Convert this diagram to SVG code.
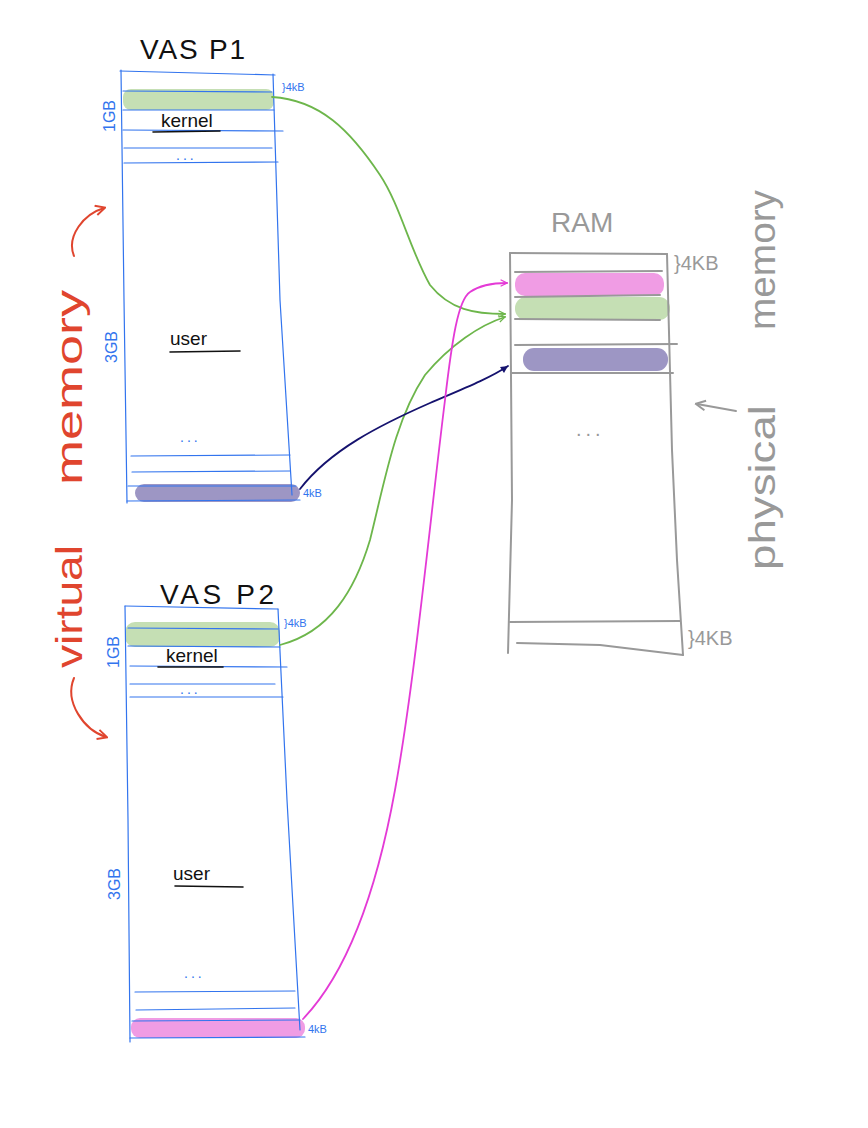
<svg xmlns="http://www.w3.org/2000/svg" width="868" height="1128" viewBox="0 0 868 1128">
<style>
.b{fill:none;stroke:#3274ee;stroke-width:1.2;stroke-linecap:round;stroke-linejoin:round}
.g{fill:none;stroke:#999;stroke-width:2;stroke-linecap:round;stroke-linejoin:round}
.ul{fill:none;stroke:#111;stroke-width:1.6;stroke-linecap:round}
.title{font-family:"Liberation Sans",Arial,sans-serif;font-size:28px;fill:#111}
.lbl{font-family:"Liberation Sans",Arial,sans-serif;font-size:19px;fill:#111}
.bl{font-family:"Liberation Sans",Arial,sans-serif;font-size:16px;fill:#3274ee}
.bs{font-family:"Liberation Sans",Arial,sans-serif;font-size:11px;fill:#3274ee}
.gr{font-family:"Liberation Sans",Arial,sans-serif;fill:#999}
.red{font-family:"Liberation Sans",Arial,sans-serif;font-size:36px;fill:#e0452e}
.dots{font-family:"Liberation Sans",Arial,sans-serif;font-size:14px;fill:#3274ee;letter-spacing:3px}
.green{fill:#c5dfb4}
.pink{fill:#f09ce4}
.purple{fill:#9d96c4}
.conn{fill:none;stroke-width:1.8;stroke-linecap:round}
</style>
<defs>
<marker id="mGreen" viewBox="0 0 10 10" refX="9" refY="5" markerWidth="8" markerHeight="8" orient="auto" markerUnits="userSpaceOnUse"><path d="M1,1 L9,5 L1,9" fill="none" stroke="#6db64b" stroke-width="1.5"/></marker>
<marker id="mNavy" viewBox="0 0 10 10" refX="9" refY="5" markerWidth="9" markerHeight="9" orient="auto" markerUnits="userSpaceOnUse"><path d="M1,1 L9,5 L1,9 Z" fill="#15126e"/></marker>
<marker id="mPink" viewBox="0 0 10 10" refX="9" refY="5" markerWidth="8" markerHeight="8" orient="auto" markerUnits="userSpaceOnUse"><path d="M1,1 L9,5 L1,9" fill="none" stroke="#e43ad6" stroke-width="1.5"/></marker>
<marker id="mRed" viewBox="0 0 10 10" refX="8" refY="5" markerWidth="12" markerHeight="12" orient="auto" markerUnits="userSpaceOnUse"><path d="M1,1 L9,5 L1,9" fill="none" stroke="#e0452e" stroke-width="1.6"/></marker>
<marker id="mGray" viewBox="0 0 10 10" refX="8" refY="5" markerWidth="12" markerHeight="12" orient="auto" markerUnits="userSpaceOnUse"><path d="M1,1 L9,5 L1,9" fill="none" stroke="#999" stroke-width="1.6"/></marker>
</defs>
<rect width="868" height="1128" fill="#fff"/>

<g id="vas-p1">
<text class="title" x="140" y="59" textLength="105" lengthAdjust="spacing">VAS  P1</text>
<rect class="green" x="123" y="89" width="151" height="21" rx="8"/>
<rect class="purple" x="135" y="484" width="165" height="18" rx="9"/>
<path class="b" d="M120,71 L275,75"/>
<path class="b" d="M121,70 L124,300 L127,503"/>
<path class="b" d="M273,74 L280,300 L292,495"/>
<path class="b" d="M127,501 L300,500"/>
<path class="b" d="M123,91 L272,92 M123,110 L274,110 M123,130 L283,131 M124,148 L272,148 M124,163 L278,162"/>
<path class="b" d="M131,456 L290,455 M132,472 L290,471 M128,486 L296,486"/>
<text class="bs" x="282" y="91">}4kB</text>
<text class="bs" x="303" y="497">4kB</text>
<text class="bl" transform="translate(115,132) rotate(-90)">1GB</text>
<text class="bl" transform="translate(117,363) rotate(-90)">3GB</text>
<text class="lbl" x="161" y="127">kernel</text>
<path class="ul" d="M153,132 L220,131"/>
<text class="dots" x="176" y="160">...</text>
<text class="lbl" x="170" y="345">user</text>
<path class="ul" d="M170,352 L240,351"/>
<text class="dots" x="180" y="442">...</text>
</g>

<g id="vas-p2">
<text class="title" x="160" y="604" textLength="114" lengthAdjust="spacing">VAS  P2</text>
<rect class="green" x="125" y="622" width="155" height="25" rx="10"/>
<rect class="pink" x="131" y="1018" width="174" height="20" rx="9"/>
<path class="b" d="M125,606 L278,609"/>
<path class="b" d="M125,606 L128,820 L130,1042"/>
<path class="b" d="M278,609 L287,800 L300,1030"/>
<path class="b" d="M130,1038 L305,1037"/>
<path class="b" d="M128,628 L278,629 M128,646 L280,647 M130,666 L287,667 M130,684 L275,684 M130,697 L283,697"/>
<path class="b" d="M135,992 L295,991 M136,1010 L295,1008 M132,1021 L300,1020"/>
<text class="bs" x="284" y="627">}4kB</text>
<text class="bs" x="308" y="1033">4kB</text>
<text class="bl" transform="translate(119,668) rotate(-90)">1GB</text>
<text class="bl" transform="translate(120,900) rotate(-90)">3GB</text>
<text class="lbl" x="166" y="662">kernel</text>
<path class="ul" d="M158,667 L223,667"/>
<text class="dots" x="180" y="694">...</text>
<text class="lbl" x="173" y="880">user</text>
<path class="ul" d="M175,886 L243,887"/>
<text class="dots" x="184" y="978">...</text>
</g>

<g id="ram">
<text class="gr" x="551" y="232" font-size="28">RAM</text>
<rect class="pink" x="515" y="273" width="149" height="23" rx="10"/>
<rect class="green" x="515" y="297" width="155" height="23" rx="11"/>
<rect class="purple" x="523" y="348" width="145" height="23" rx="11"/>
<path class="g" d="M510,253 L667,254"/>
<path class="g" d="M510,253 L512,500 L508,653"/>
<path class="g" d="M667,254 L672,450 L677,560 L683,655"/>
<path class="g" d="M517,643 L600,645 L683,655"/>
<path class="g" d="M515,272 L662,271 M515,297 L660,295 M515,319 L660,320 M515,345 L677,344 M512,373 L673,373 M510,622 L680,621"/>
<text class="gr" x="674" y="270" font-size="20">}4KB</text>
<text class="gr" x="688" y="645" font-size="20">}4KB</text>
<text class="gr" x="576" y="436" font-size="20" letter-spacing="4">...</text>
</g>

<g id="virtual-memory-label">
<text class="red" transform="translate(82,668) rotate(-90)"><tspan x="0" textLength="123" lengthAdjust="spacingAndGlyphs">virtual</tspan><tspan x="183" textLength="195" lengthAdjust="spacingAndGlyphs">memory</tspan></text>
<path d="M74,256 C66,236 84,214 104,208" fill="none" stroke="#e0452e" stroke-width="2" stroke-linecap="round" marker-end="url(#mRed)"/>
<path d="M74,678 C64,702 84,730 106,737" fill="none" stroke="#e0452e" stroke-width="2" stroke-linecap="round" marker-end="url(#mRed)"/>
</g>

<g id="physical-memory-label">
<text class="gr" font-size="36" transform="translate(775,570) rotate(-90)"><tspan x="0" textLength="165" lengthAdjust="spacingAndGlyphs">physical</tspan><tspan x="240" textLength="140" lengthAdjust="spacingAndGlyphs">memory</tspan></text>
<path d="M736,411 L697,404" fill="none" stroke="#999" stroke-width="2" stroke-linecap="round" marker-end="url(#mGray)"/>
</g>

<g id="connectors">
<path class="conn" stroke="#6db64b" d="M272,97 C320,100 350,130 380,175 C400,205 410,250 430,285 C450,310 475,314 505,314" marker-end="url(#mGreen)"/>
<path class="conn" stroke="#6db64b" d="M280,645 C330,632 355,590 370,540 C385,480 395,420 425,375 C450,345 480,325 505,317" marker-end="url(#mGreen)"/>
<path class="conn" stroke="#15126e" d="M300,489 C330,450 380,425 430,403 C465,388 490,378 508,366" marker-end="url(#mNavy)"/>
<path class="conn" stroke="#e43ad6" d="M303,1019 C345,975 375,900 395,790 C415,680 430,520 445,400 C452,340 458,300 470,292 C480,285 495,283 507,283" marker-end="url(#mPink)"/>
</g>
</svg>
